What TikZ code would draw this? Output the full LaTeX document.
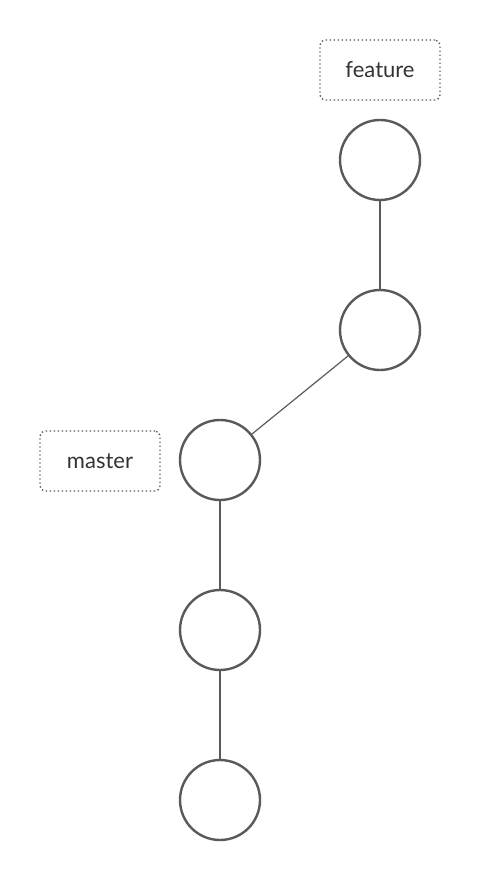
\documentclass[tikz,border=0pt]{standalone}
\usepackage{fontspec}
\setmainfont{Lato}
\usepackage{xcolor}
\usepackage{tikz}
\usetikzlibrary{positioning}

\definecolor{commitgray}{HTML}{595959}
\definecolor{labelgray}{HTML}{333333}

\begin{document}
\begin{tikzpicture}[
    x=1pt, y=-1pt,
    commit/.style={draw=commitgray, circle, line width=2.4pt, minimum size=80pt, inner sep=0pt},
    branch/.style={draw=commitgray, line width=1.4pt, dash pattern=on 1.4pt off 2.6pt,
        rounded corners=5pt, minimum width=120pt, minimum height=60pt, inner sep=0pt,
        text=labelgray, font=\fontsize{22}{24}\selectfont},
    link/.style={draw=commitgray, line width=1.2pt}
]
\useasboundingbox (0,0) rectangle (483,882);
% commits
\node[commit] (c1) at (220,800) {};
\node[commit] (c2) at (220,630) {};
\node[commit] (c3) at (220,460) {};
\node[commit] (f1) at (380,330) {};
\node[commit] (f2) at (380,160) {};
% branch labels
\node[branch] (master) at (100,461) {master};
\node[branch] (feature) at (380,70) {feature};
% history
\draw[link] (c1) -- (c2);
\draw[link] (c2) -- (c3);
\draw[link] (c3) -- (f1);
\draw[link] (f1) -- (f2);
\end{tikzpicture}
\end{document}
